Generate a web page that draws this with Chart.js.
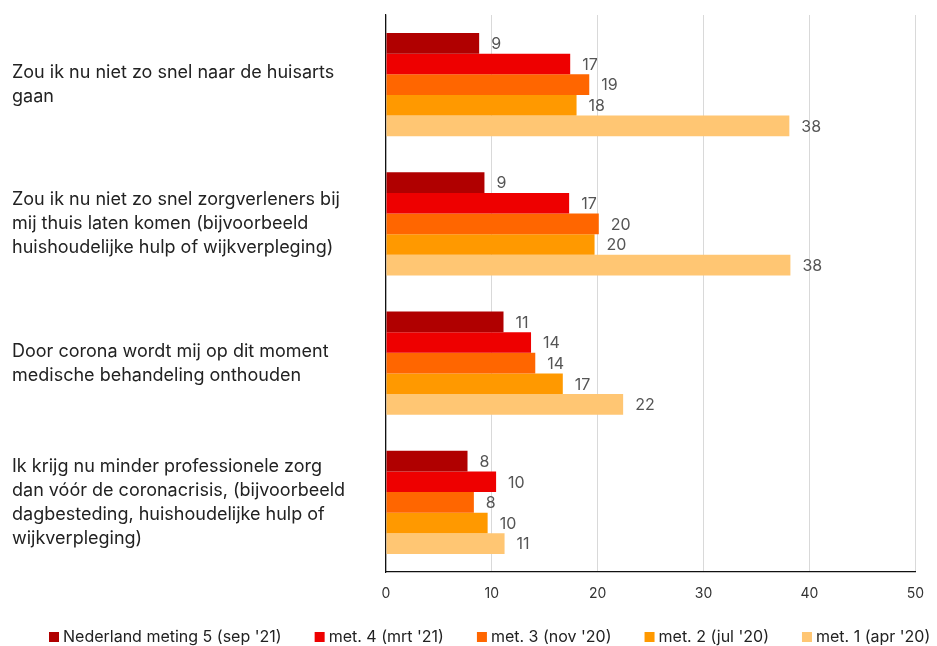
<!DOCTYPE html>
<html><head><meta charset="utf-8">
<script src="https://cdn.jsdelivr.net/npm/chart.js@4"></script>
<style>html,body{margin:0;padding:0;background:#fff}#wrap{width:937px;height:646px}</style>
</head><body><div id="wrap"><canvas id="c"></canvas></div>
<script>
const categories = [
  ["Zou ik nu niet zo snel naar de huisarts", "gaan"],
  ["Zou ik nu niet zo snel zorgverleners bij", "mij thuis laten komen (bijvoorbeeld", "huishoudelijke hulp of wijkverpleging)"],
  ["Door corona wordt mij op dit moment", "medische behandeling onthouden"],
  ["Ik krijg nu minder professionele zorg", "dan vóór de coronacrisis, (bijvoorbeeld", "dagbesteding, huishoudelijke hulp of", "wijkverpleging)"]
];
const seriesNames = ["Nederland meting 5 (sep '21)", "met. 4 (mrt '21)", "met. 3 (nov '20)", "met. 2 (jul '20)", "met. 1 (apr '20)"];
const meting5 = [8.8, 9.3, 11.1, 7.7];
const meting4 = [17.4, 17.3, 13.7, 10.4];
const meting3 = [19.2, 20.1, 14.1, 8.3];
const meting2 = [18.0, 19.7, 16.7, 9.6];
const meting1 = [38.1, 38.2, 22.4, 11.2];
const xTicks = [0, 10, 20, 30, 40, 50];
const colors = ["#B00000", "#EE0000", "#FF6600", "#FF9900", "#FFC673"];
const values = [meting5, meting4, meting3, meting2, meting1];

const FONT = "Inter, 'Noto Sans', sans-serif";

const labelPlugin = {
  id: 'barLabels',
  afterDatasetsDraw(chart) {
    const ctx = chart.ctx;
    ctx.save();
    ctx.font = "16px " + FONT;
    ctx.fillStyle = "#555";
    ctx.textAlign = "left";
    ctx.textBaseline = "middle";
    chart.data.datasets.forEach((ds, i) => {
      const meta = chart.getDatasetMeta(i);
      meta.data.forEach((bar, j) => {
        ctx.fillText(String(Math.round(ds.data[j])), bar.x + 12, bar.y + 1);
      });
    });
    ctx.restore();
  }
};

// Legend drawn in one row along the bottom edge
const legendPlugin = {
  id: 'bottomLegend',
  afterDraw(chart) {
    const ctx = chart.ctx;
    ctx.save();
    ctx.font = "16px " + FONT;
    ctx.textAlign = "left";
    ctx.textBaseline = "middle";
    const cy = chart.height - 9;
    let x = 49;
    chart.data.datasets.forEach(ds => {
      ctx.fillStyle = ds.backgroundColor;
      ctx.fillRect(x, cy - 5, 10, 10);
      ctx.fillStyle = "#222";
      ctx.fillText(ds.label, x + 14, cy);
      x += 14 + ctx.measureText(ds.label).width + 33;
    });
    ctx.restore();
  }
};

new Chart(document.getElementById('c'), {
  type: 'bar',
  data: {
    labels: categories,
    datasets: values.map((v, i) => ({
      label: seriesNames[i],
      data: v,
      backgroundColor: colors[i],
      borderWidth: 0,
      barPercentage: 1,
      categoryPercentage: 0.74
    }))
  },
  options: {
    indexAxis: 'y',
    responsive: true,
    maintainAspectRatio: false,
    animation: false,
    layout: { padding: { left: 12, right: 19, top: 15, bottom: 34 } },
    plugins: {
      tooltip: { enabled: false },
      legend: { display: false }
    },
    scales: {
      x: {
        min: 0, max: 50,
        afterBuildTicks: s => { s.ticks = xTicks.map(v => ({ value: v })); },
        afterFit: s => { s.height = 40; },
        grid: { color: "#d9d9d9", lineWidth: 1, drawTicks: false },
        border: { color: "#111", width: 1.2 },
        ticks: { color: "#333", padding: 13, font: { family: FONT, size: 14 } }
      },
      y: {
        afterFit: s => { s.width = 374; s.paddingTop = 0; s.paddingBottom = 0; },
        grid: { display: false, drawTicks: false },
        border: { color: "#111", width: 1.2 },
        ticks: {
          crossAlign: 'far',
          color: "#222",
          padding: 10,
          font: { family: FONT, size: 18, lineHeight: 1.33 }
        }
      }
    }
  },
  plugins: [labelPlugin, legendPlugin]
});
</script></body></html>
